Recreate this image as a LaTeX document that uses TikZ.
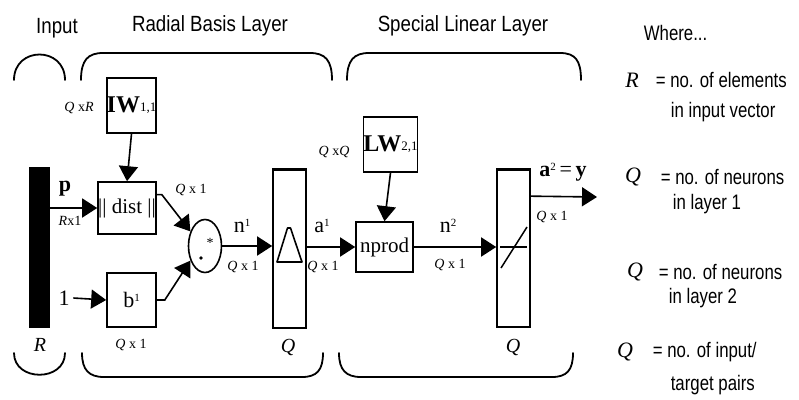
\documentclass[tikz,border=0pt]{standalone}
\usepackage{fontspec}
\setmainfont{Liberation Serif}
\newfontfamily\hvf[FakeStretch=0.85]{Liberation Sans}
\newfontfamily\hvl[FakeStretch=0.8]{Liberation Sans}
\usetikzlibrary{arrows.meta,shapes.geometric,calc}
\begin{document}
\begin{tikzpicture}[x=1pt,y=-1pt,
  line width=1.6pt,
  arr/.style={-{Triangle[length=15pt,width=19pt]}},
  box/.style={draw,rectangle,inner sep=0pt},
  hdr/.style={font=\hvf\fontsize{22}{24}\selectfont, inner sep=0pt},
  leg/.style={font=\hvl\fontsize{21}{24}\selectfont, anchor=west, inner sep=0pt},
  legsym/.style={font=\itshape\fontsize{22}{24}\selectfont, inner sep=0pt},
  dimlab/.style={font=\fontsize{14}{16}\selectfont, inner sep=0pt},
  sig/.style={font=\fontsize{22}{24}\selectfont, inner sep=0pt},
  boxtext/.style={font=\fontsize{21}{23}\selectfont},
  bigsym/.style={font=\itshape\fontsize{20}{22}\selectfont, inner sep=0pt},
  brace/.style={line width=1.8pt, line cap=round},
  thick top/.style={line width=3pt}
]
\useasboundingbox (0,0) rectangle (799,399);

% headers
\node[hdr] (hin) at (57,28) {Input};
\node[hdr] (hrb) at (210,26) {Radial Basis Layer};
\node[hdr] (hsl) at (463,26) {Special Linear Layer};

% braces
\draw[brace] (14,80) .. controls (14,46) and (65,46) .. (65,80);
\draw[brace] (81,80) .. controls (81,60) and (88,53) .. (103,53) -- (310,53) .. controls (325,53) and (332,60) .. (332,80);
\draw[brace] (347,80) .. controls (347,60) and (354,53) .. (369,53) -- (560,53) .. controls (575,53) and (581,60) .. (581,80);
\draw[brace] (14,353) .. controls (14,382) and (65,382) .. (65,353);
\draw[brace] (82,353) .. controls (82,370) and (89,377) .. (104,377) -- (302,377) .. controls (317,377) and (323,370) .. (323,353);
\draw[brace] (339,353) .. controls (339,370) and (346,377) .. (361,377) -- (552,377) .. controls (567,377) and (573,370) .. (573,353);

% blocks
\node[box, fill=black, minimum width=19pt, minimum height=159pt] (bar) at (39.5,247.5) {};
\node[box, boxtext, minimum width=58pt, minimum height=52pt] (dist) at (127,208) {|| dist ||};
\node[box, minimum width=49pt, minimum height=55pt] (iw) at (131.5,105.5)
  {\fontsize{24}{24}\selectfont\textbf{IW}\raisebox{1pt}{\fontsize{13}{13}\selectfont 1,1}};
\node[box, minimum width=49pt, minimum height=54pt] (b) at (131.5,300)
  {\fontsize{22}{24}\selectfont b\raisebox{6pt}{\fontsize{11}{11}\selectfont 1}};
\node[draw, ellipse, minimum width=33pt, minimum height=53pt, inner sep=0pt] (sum) at (205,246) {};
\fill (201,258) circle (1.8pt);
\node[font=\fontsize{14}{14}\selectfont, inner sep=0pt] (star) at (210,243) {*};
\node[box, minimum width=33pt, minimum height=158pt] (rb) at (289.5,249) {};
\draw[thick top] (rb.north west) -- (rb.north east);
\draw[line width=1.6pt, line join=round] (277,262) -- (287.5,228) -- (290.5,228) -- (302,262) -- cycle;
\node[box, boxtext, minimum width=57pt, minimum height=50pt] (np) at (384.5,247) {nprod};
\node[box, minimum width=51pt, minimum height=55pt] (lw) at (390.5,144.5)
  {\fontsize{24}{24}\selectfont\textbf{LW}\raisebox{1pt}{\fontsize{13}{13}\selectfont 2,1}};
\node[box, minimum width=33pt, minimum height=157pt] (pl) at (513.5,248.5) {};
\draw[thick top] (pl.north west) -- (pl.north east);
\draw[line width=1.5pt] (500,247) -- (527,247);
\draw[line width=1.5pt] (501,268) -- (527,227);

\node[sig] (one) at (64,298) {1};
\coordinate (out) at (597,197);

% connectors
\draw[arr] (dist.west -| bar.east) -- (dist.west);
\draw[arr] (iw.south) -- (dist.north);
\draw[arr] ($(dist.north east)!0.25!(dist.south east)$) -- ++(5,0) -- (sum.135);
\draw[arr] (one.east) ++(3,0) -- (b.west);
\draw[arr] (b.east) -- ++(8,0) -- (sum.225);
\draw[arr] (sum.east) -- (sum.east -| rb.west);
\draw[arr] (np.west -| rb.east) -- (np.west);
\draw[arr] (lw.south) -- (np.north);
\draw[arr] (np.east) -- (np.east -| pl.west);
\draw[arr] ($(pl.north east)!0.17!(pl.south east)$) -- (out);

% signal and dimension labels
\node[sig, font=\bfseries\fontsize{22}{24}\selectfont] (lp) at (65,189) {p};
\node[dimlab] (lrx1) at (70,221) {\itshape R\upshape x1};
\node[dimlab] (lqxr) at (79,108) {\itshape Q \upshape x\itshape R};
\node[dimlab] (lq1a) at (191,190) {\itshape Q \upshape x 1};
\node[dimlab] (lq1b) at (131,345) {\itshape Q \upshape x 1};
\node[bigsym] (lr) at (40,345) {R};
\node[sig] (ln1) at (242,226) {n\raisebox{6pt}{\fontsize{11}{11}\selectfont 1}};
\node[dimlab] (lq1c) at (243,267) {\itshape Q \upshape x 1};
\node[sig] (la1) at (322,226) {a\raisebox{6pt}{\fontsize{11}{11}\selectfont 1}};
\node[dimlab] (lq1d) at (323,267) {\itshape Q \upshape x 1};
\node[bigsym] (lq1) at (288,347) {Q};
\node[dimlab] (lqxq) at (334,152) {\itshape Q \upshape x\itshape Q};
\node[sig] (ln2) at (448,226) {n\raisebox{6pt}{\fontsize{11}{11}\selectfont 2}};
\node[dimlab] (lq1e) at (450,265) {\itshape Q \upshape x 1};
\node[sig] (la2) at (563,172) {\textbf{a}\raisebox{6pt}{\fontsize{11}{11}\selectfont 2}\,=\,\textbf{y}};
\node[dimlab] (lq1f) at (552,217) {\itshape Q \upshape x 1};
\node[bigsym] (lq2) at (513,347) {Q};

% legend
\node[leg] (where) at (643,33) {Where...};
\node[legsym] (s1) at (632,80) {R};
\node[leg] (t1a) at (655,80) {= no. of elements};
\node[leg] (t1b) at (670,112) {in input vector};
\node[legsym] (s2) at (633,177) {Q};
\node[leg] (t2a) at (660,177) {= no. of neurons};
\node[leg] (t2b) at (672,204) {in layer 1};
\node[legsym] (s3) at (635,272) {Q};
\node[leg] (t3a) at (658,272) {= no. of neurons};
\node[leg] (t3b) at (668,298) {in layer 2};
\node[legsym] (s4) at (625,352) {Q};
\node[leg] (t4a) at (652,352) {= no. of input/};
\node[leg] (t4b) at (670,385) {target pairs};
\end{tikzpicture}
\end{document}
